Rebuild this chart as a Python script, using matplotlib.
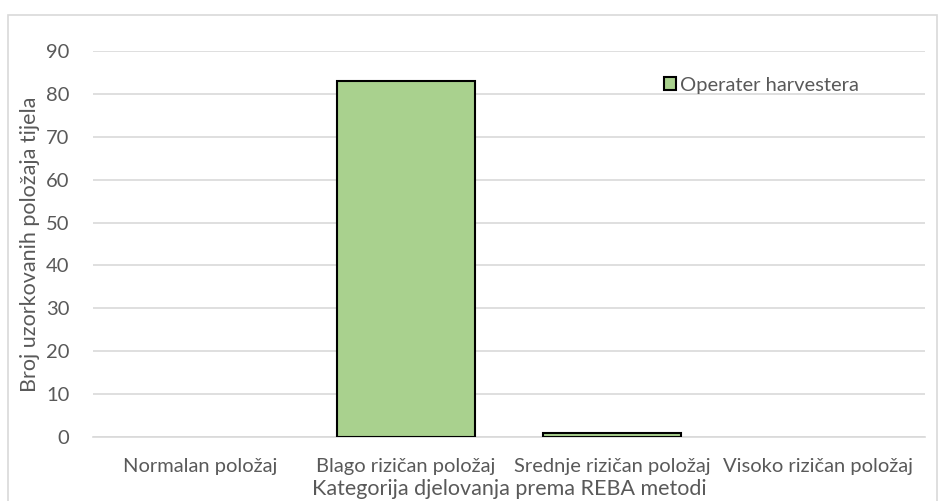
import matplotlib
matplotlib.use('Agg')
from matplotlib import pyplot as plt
from matplotlib.patches import Rectangle, Patch

categories = ['Normalan položaj', 'Blago rizičan položaj', 'Srednje rizičan položaj', 'Visoko rizičan položaj']
values = [0, 83, 1, 0]
series_name = 'Operater harvestera'
yticks = list(range(0, 100, 10))

plt.rcParams['font.family'] = ['Lato', 'DejaVu Sans']
txt = '#595959'
green = '#A9D18E'

fig = plt.figure(figsize=(9.39, 5.01), dpi=100)
ax = fig.add_axes([0.099, 0.128, 0.886, 0.770])

# okvir grafa
fig.patches.append(Rectangle((8/939, -0.05), 929/939, 1 - 15/501 + 0.05, transform=fig.transFigure,
                             fill=False, edgecolor='#d9d9d9', linewidth=1.2))

x = range(len(categories))
bars = ax.bar(x, values, width=0.67, color=green, edgecolor='black', linewidth=1.5, zorder=3)
# stupci s nulom se ne vide
for b, v in zip(bars, values):
    if v == 0:
        b.set_linewidth(0)

ax.set_ylim(0, 90)
ax.set_xlim(-0.52, 3.52)
ax.set_yticks(yticks)
ax.set_xticks(list(x))
ax.set_xticklabels(categories)
ax.yaxis.grid(True, color='#d9d9d9', linewidth=1.2, zorder=0)
for s in ['top', 'right', 'left']:
    ax.spines[s].set_visible(False)
ax.spines['bottom'].set_color('#d9d9d9')
ax.spines['bottom'].set_linewidth(1.2)
ax.tick_params(axis='both', length=0, colors=txt, labelsize=14.5)
ax.tick_params(axis='y', pad=17)
ax.tick_params(axis='x', pad=15)

ax.set_xlabel('Kategorija djelovanja prema REBA metodi', color=txt, fontsize=15.5, labelpad=3)
ax.set_ylabel('Broj uzorkovanih položaja tijela', color=txt, fontsize=15.5, labelpad=4)

handle = Patch(facecolor=green, edgecolor='black', linewidth=1.5)
leg = ax.legend([handle], [series_name], loc='upper left', bbox_to_anchor=(0.665, 0.98),
                frameon=False, fontsize=14.5, handlelength=0.6, handleheight=0.6,
                handletextpad=0.2, labelcolor=txt)

plt.savefig('out.png', dpi=100)
